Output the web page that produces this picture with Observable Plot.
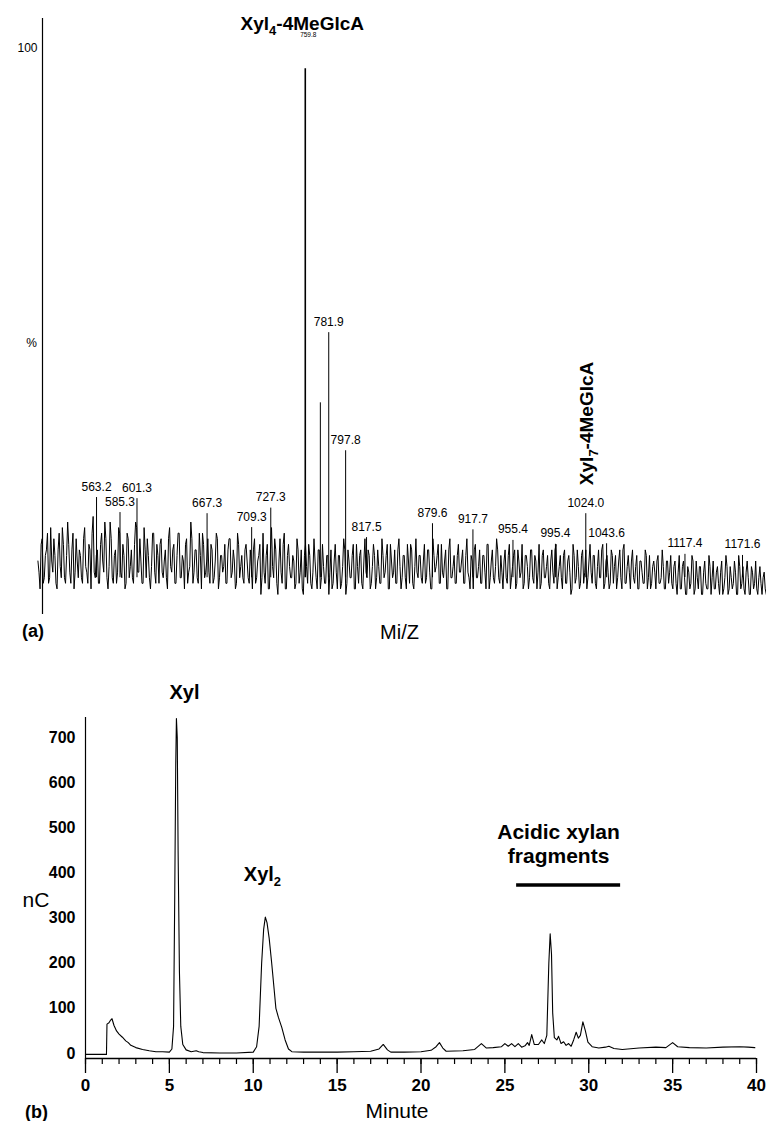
<!DOCTYPE html>
<html><head><meta charset="utf-8">
<script src="https://cdn.jsdelivr.net/npm/d3@7"></script>
<script src="https://cdn.jsdelivr.net/npm/@observablehq/plot@0.6"></script>
<style>
html,body{margin:0;padding:0;background:#fff;}
#chart{width:766px;}
#chart svg{display:block;}
</style></head><body><div id="chart"></div>
<script>
const FONT = "'Liberation Sans', Arial, Helvetica, sans-serif";

// ---------- Panel (a): mass spectrum ----------
// noise intensities (%) at even m/z (508, 510, ...) and odd m/z (509, 511, ...)
const noiseStart = 508;
const noiseEven = [
 8,3,12,5,10,4,14,6,9,3,13,5,11,4,15,6,10,3,12,5,
 9,4,14,6,11,3,16,5,10,4,13,6,12,3,15,5,9,4,14,6,
 11,3,13,5,10,4,15,6,12,4,14,5,9,3,13,6,11,4,12,5,
 10,3,14,6,11,4,13,5,9,3,12,6,15,4,10,5,13,3,11,6,
 12,4,10,5,13,3,9,6,11,4,12,5,10,3,13,5,9,4,11,5,
 10,3,12,5,9,2,13,4,11,3,14,5,10,2,12,4,13,3,11,5,
 9,3,12,4,10,2,11,4,9,3,12,5,10,3,11,4,9,2,10,4,
 11,3,9,4,12,2,10,5,9,3,11,4,10,3,12,5,9,4,11,3,
 10,4,12,5,9,3,11,5,10,4,12,3,9,5,11,4,10,3,12,5,
 9,4,11,5,10,3,12,6,9,4,11,5,10,3,12,5,9,4,11,6,
 10,4,12,5,9,3,11,5,10,4,9,3,11,5,10,4,12,5,9,3,
 10,4,11,5,9,3,10,5,11,4,9,3,10,5,9,3,11,4,10,5,
 9,3,10,4,11,5,9,3,10,4,9,2,11,4,10,3,9,4,10,5,
 11,4,9,3,10,5,11,4,9,3,10,4,9,5,10,3,11,4,9,3,
 10,4,9,3,8,4,10,3,9,4,8,3,9,4,10,3,8,4,9,3,
 8,2,9,3,8,2,7,3,9,2,8,3,7,2,8,3,9,2,8,3,
 7,2,8,3,9,2,7,3,8,2,9,3,7,2,8,2,7,3,8,2,
 7,2,6,2
];
const noiseOdd = [
 6,11,4,9,13,5,8,12,4,10,7,14,5,9,11,4,13,6,8,10,
 5,12,7,4,10,13,6,9,4,11,8,15,5,7,12,4,10,6,13,5,
 9,4,12,7,5,11,14,6,8,4,10,12,5,7,13,4,9,11,6,8,
 5,12,7,10,4,9,13,5,8,11,4,7,12,6,10,4,9,13,5,8,
 6,11,4,8,12,5,9,7,4,10,12,6,8,4,11,7,5,10,8,4,
 7,10,4,8,11,5,6,9,3,10,7,12,4,8,6,11,3,9,7,5,
 8,4,10,6,3,9,7,11,4,6,8,3,10,5,7,4,9,6,3,8,
 6,9,3,7,10,4,8,5,11,3,7,9,4,8,6,10,3,7,9,5,
 7,4,9,6,11,3,8,6,4,10,7,5,9,3,8,11,4,7,6,9,
 5,8,4,10,6,3,9,7,11,4,6,8,3,10,5,7,4,9,6,8,
 4,9,6,3,8,10,5,7,4,9,6,11,3,8,5,7,10,4,6,8,
 5,9,3,7,10,4,8,6,3,9,7,5,10,4,8,6,3,9,5,7,
 4,8,6,10,3,7,5,9,4,8,6,3,9,5,7,4,10,6,3,8,
 6,9,4,7,5,10,3,8,6,4,9,7,3,8,5,10,4,7,6,8,
 5,7,3,8,6,4,9,5,3,7,6,8,4,5,7,3,8,6,4,7,
 4,6,3,7,5,2,6,4,8,3,5,7,2,6,4,3,7,5,3,6,
 4,6,2,5,7,3,5,4,6,2,7,4,3,6,5,2,6,4,3,5,
 4,5,3
];
const peakMz  = [563.2, 585.3, 601.3, 667.3, 709.3, 727.3, 759.8, 774.0, 781.9, 797.8, 817.5, 879.6, 917.7, 955.4, 995.4, 1024.0, 1043.6, 1117.4, 1171.6];
const peakPct = [19.4, 16.7, 19.2, 16.5, 14.0, 17.5, 96.4, 36.4, 49.0, 27.8, 12.2, 14.7, 13.6, 11.7, 11.0, 16.5, 11.1, 9.2, 9.0];
const peakLabeled = [1,1,1,1,1,1,0,0,1,1,1,1,1,1,1,1,1,1,1];
const basePeakLabel = "759.8";
const msTitle = "Xyl_4-4MeGlcA";
const msSecond = "Xyl_7-4MeGlcA";
const yTicksA = [100];

// ---------- Panel (b): chromatogram ----------
const timeMin = [0.0,1.25,1.28,1.4,1.5,1.58,1.7,1.85,2.0,2.2,2.4,2.55,2.7,3.0,3.4,3.8,4.0,4.2,4.6,5.0,
 5.15,5.25,5.32,5.38,5.42,5.47,5.52,5.6,5.68,5.8,6.0,6.3,6.6,6.75,7.0,8.0,9.0,10.0,
 10.2,10.35,10.5,10.62,10.72,10.82,10.95,11.1,11.25,11.35,11.5,11.7,11.9,12.1,12.3,
 13.0,14.0,15.0,16.0,17.0,17.5,17.75,18.0,18.2,19.0,20.0,20.6,20.9,21.1,21.3,21.5,
 22.5,23.2,23.6,23.9,24.3,24.8,25.0,25.2,25.4,25.6,25.8,26.0,26.2,26.35,26.45,26.6,
 26.75,27.0,27.2,27.35,27.5,27.62,27.7,27.78,27.85,27.95,28.1,28.2,28.35,28.5,28.65,
 28.8,28.95,29.1,29.25,29.38,29.5,29.65,29.8,29.95,30.2,30.6,31.0,31.2,31.5,32.0,
 33.0,34.0,34.6,35.0,35.3,36.0,37.0,38.0,39.0,39.5,39.9];
const signalNC = [-2,-2,65,68,74,77,62,50,43,36,28,24,18,13,9,6,5,4,4,3,
 10,60,350,640,742,700,450,180,60,20,8,4,6,4,2,1,1,3,
 15,60,200,275,302,290,255,200,140,100,80,58,30,10,4,
 3,3,3,4,5,10,20,8,3,3,4,7,15,24,12,5,
 6,9,22,12,13,15,22,16,22,15,22,14,17,24,18,42,
 20,20,30,22,40,200,265,220,90,35,30,38,22,26,18,
 22,16,30,47,34,40,70,50,25,15,12,14,16,11,9,
 12,14,13,24,15,13,12,14,15,14,13];
const xMajorB = [0,5,10,15,20,25,30,35,40];
const xMinorB = d3.range(0, 41, 1);
const yTicksB = [0,100,200,300,400,500,600,700];
const annotB = [
  {text: "Xyl", t: 5.9, v: 786},
  {text: "Xyl_2", t: 10.55, v: 383},
  {text: "Acidic xylan", t: 28.2, v: 476},
  {text: "fragments", t: 28.2, v: 421}
];
const fragmentBar = {t1: 25.7, t2: 31.9, v: 373};

const style = {fontFamily: FONT, background: "#fff", color: "#000", overflow: "visible"};

// ---------- build panel (a) ----------
const noiseData = [];
noiseEven.forEach((v, i) => {
  noiseData.push({mz: noiseStart + 2 * i, pct: v});
  if (i < noiseOdd.length) noiseData.push({mz: noiseStart + 2 * i + 1, pct: noiseOdd[i]});
});
const peaks = peakMz.map((mz, i) => ({mz, pct: peakPct[i], labeled: peakLabeled[i] === 1, label: mz.toFixed(1)}));
const xDomA = [512.3, 1194.2], yDomA = [-1.6, 105.4];

const plotA = Plot.plot({
  width: 766, height: 675,
  marginLeft: 42, marginRight: 0, marginTop: 18, marginBottom: 61,
  style,
  x: {domain: xDomA, axis: null},
  y: {domain: yDomA, axis: null},
  marks: [
    Plot.ruleX([xDomA[0]], {y1: yDomA[0], y2: yDomA[1], strokeWidth: 1.2}),
    Plot.line(noiseData, {x: "mz", y: "pct", stroke: "#000", strokeWidth: 1}),
    Plot.ruleX(peaks.filter(d => d.pct <= 50), {x: "mz", y1: 5, y2: "pct", strokeWidth: 1}),
    Plot.ruleX(peaks.filter(d => d.pct > 50), {x: "mz", y1: 5, y2: "pct", strokeWidth: 1.6}),
    Plot.axisY({ticks: yTicksA, tickSize: 0, tickPadding: 5, fontSize: 12, label: null}),
    Plot.text(["%"], {x: xDomA[0], y: 47.2, dx: -11, text: d => d, fontSize: 12}),
    Plot.text(peaks.filter(d => d.labeled), {x: "mz", y: "pct", text: "label", lineAnchor: "bottom", dy: -7, fontSize: 12}),
    Plot.text([msTitle], {x: 759.8, y: 103.4, dx: -3, text: d => d, lineAnchor: "bottom", fontSize: 19, fontWeight: "bold"}),
    Plot.text([basePeakLabel], {x: 759.8, y: 102.0, dx: 3, text: d => d, lineAnchor: "bottom", fontSize: 6.5}),
    Plot.text([msSecond], {x: 1024.0, y: 32.7, dx: 1, rotate: -90, text: d => d, fontSize: 19, fontWeight: "bold"}),
    Plot.text(["(a)"], {frameAnchor: "bottom-left", dx: -20.5, dy: 22, text: d => d, fontSize: 18, fontWeight: "bold"}),
    Plot.text(["Mi/Z"], {frameAnchor: "bottom", dx: -5, dy: 24, text: d => d, fontSize: 20})
  ]
});

// ---------- build panel (b) ----------
const chrom = timeMin.map((t, i) => ({t, v: signalNC[i]}));
const xDomB = [0, 40], yDomB = [-11.1, 744.3];

const plotB = Plot.plot({
  width: 766, height: 446,
  marginLeft: 85, marginRight: 10, marginTop: 42, marginBottom: 63,
  style,
  x: {domain: xDomB},
  y: {domain: yDomB},
  marks: [
    Plot.ruleY([yDomB[0]], {strokeWidth: 1.5}),
    Plot.ruleX([xDomB[0]], {strokeWidth: 1.2}),
    Plot.axisX({ticks: xMinorB, tickSize: 6, tickFormat: () => "", label: null, strokeWidth: 1.2}),
    Plot.axisX({ticks: xMajorB, tickSize: 15, tickPadding: 5, fontSize: 17, fontWeight: "bold", label: null, strokeWidth: 1.3}),
    Plot.axisY({ticks: yTicksB, tickSize: 0, tickPadding: 10, fontSize: 16, fontWeight: "bold", label: null}),
    Plot.line(chrom, {x: "t", y: "v", stroke: "#000", strokeWidth: 1.1}),
    Plot.ruleY([fragmentBar], {y: "v", x1: "t1", x2: "t2", strokeWidth: 3.5}),
    Plot.text(annotB.slice(0, 2), {x: "t", y: "v", text: "text", lineAnchor: "bottom", fontSize: 20, fontWeight: "bold"}),
    Plot.text(annotB.slice(2), {x: "t", y: "v", text: "text", lineAnchor: "bottom", fontSize: 21, fontWeight: "bold"}),
    Plot.text(["nC"], {frameAnchor: "left", dx: -63, dy: 12.5, text: d => d, fontSize: 21}),
    Plot.text(["Minute"], {frameAnchor: "bottom", dx: -24, dy: 59, lineAnchor: "bottom", text: d => d, fontSize: 21}),
    Plot.text(["(b)"], {frameAnchor: "bottom-left", dx: -60.5, dy: 59, lineAnchor: "bottom", text: d => d, fontSize: 18, fontWeight: "bold"})
  ]
});

// subscripts: "Xyl_4" -> Xyl with subscript 4
function applySubscripts(svg) {
  const NS = "http://www.w3.org/2000/svg";
  svg.querySelectorAll("text").forEach(t => {
    if (t.querySelector("tspan")) return;
    const s = t.textContent;
    if (!s.includes("_")) return;
    const parts = s.split(/_(\d)/);
    t.textContent = "";
    parts.forEach((p, i) => {
      if (!p) return;
      const ts = document.createElementNS(NS, "tspan");
      ts.textContent = p;
      if (i % 2 === 1) {
        ts.setAttribute("font-size", "13");
        ts.setAttribute("dy", "5");
      } else if (i > 0) {
        ts.setAttribute("dy", "-5");
      }
      t.appendChild(ts);
    });
  });
}
applySubscripts(plotA);
applySubscripts(plotB);

const chart = document.getElementById("chart");
chart.appendChild(plotA);
chart.appendChild(plotB);
</script>
</body></html>
